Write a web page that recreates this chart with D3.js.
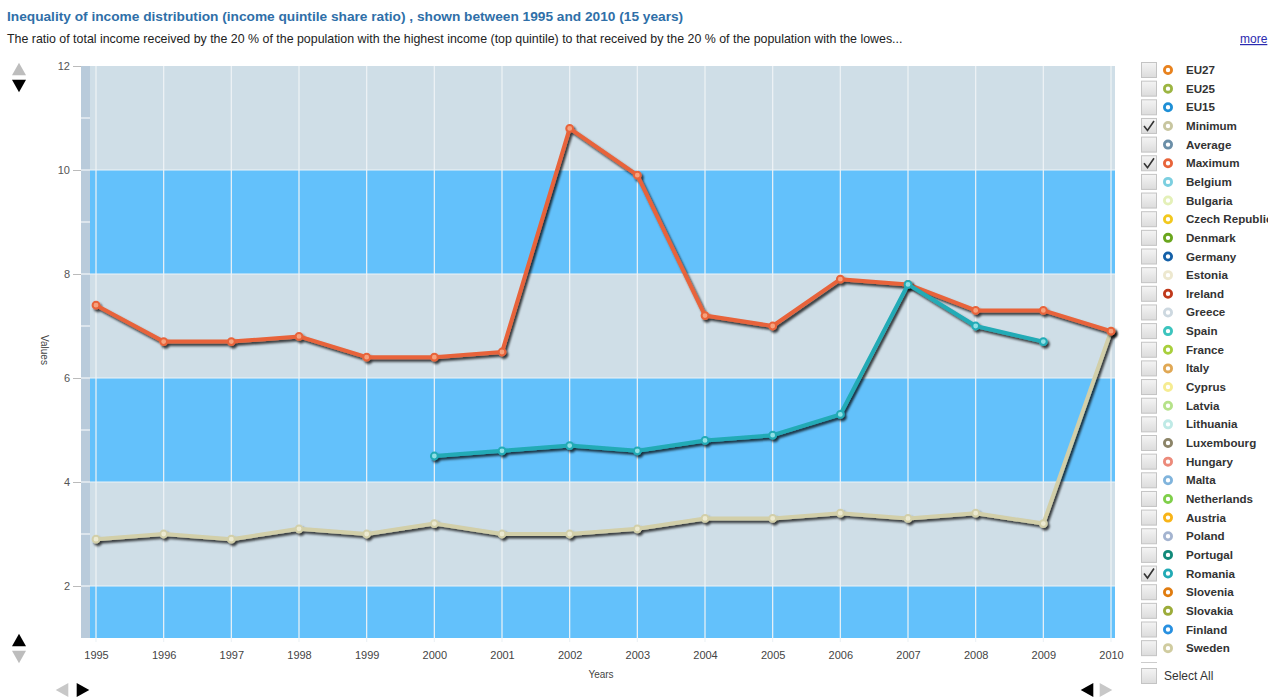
<!DOCTYPE html>
<html><head><meta charset="utf-8">
<script src="https://cdn.jsdelivr.net/npm/d3@7"></script>
<style>
body{margin:0;background:#fff;font-family:Arial,"Liberation Sans",sans-serif;}
</style></head>
<body><svg id="c" width="1268" height="700"></svg>
<script>
const years = [1995,1996,1997,1998,1999,2000,2001,2002,2003,2004,2005,2006,2007,2008,2009,2010];
const minimumVals = [2.9,3.0,2.9,3.1,3.0,3.2,3.0,3.0,3.1,3.3,3.3,3.4,3.3,3.4,3.2,6.9];
const maximumVals = [7.4,6.7,6.7,6.8,6.4,6.4,6.5,10.8,9.9,7.2,7.0,7.9,7.8,7.3,7.3,6.9];
const romaniaVals = [null,null,null,null,null,4.5,4.6,4.7,4.6,4.8,4.9,5.3,7.8,7.0,6.7,null];
const yTicks = [2,4,6,8,10,12];
const legendNames = ["EU27","EU25","EU15","Minimum","Average","Maximum","Belgium","Bulgaria","Czech Republic","Denmark","Germany","Estonia","Ireland","Greece","Spain","France","Italy","Cyprus","Latvia","Lithuania","Luxembourg","Hungary","Malta","Netherlands","Austria","Poland","Portugal","Romania","Slovenia","Slovakia","Finland","Sweden"];
const legendColors = ["#e8821e","#9cb542","#1e8fd6","#c8c6a0","#6b8fa8","#e8643a","#7ccfe0","#e4f0b8","#f2c81e","#6aa61e","#1460a8","#ede8cf","#c0391b","#cdd8e0","#3cc4be","#a8cf3c","#e0a855","#f6ec92","#b6e28a","#bfeae6","#8c8468","#ec8a7a","#80b4dc","#7fcf4a","#f8b418","#a4b4d0","#128a7a","#22aab5","#e07c10","#9cac3a","#2890e0","#d0cca0"];
const checked = ["Minimum","Maximum","Romania"];

(function(){
const svg = d3.select("#c");
const defs = svg.append("defs");
const f = defs.append("filter").attr("id","sh").attr("x","-10%").attr("y","-10%").attr("width","130%").attr("height","130%");
f.append("feDropShadow").attr("dx",2).attr("dy",2.5).attr("stdDeviation",1.3).attr("flood-color","#000").attr("flood-opacity",0.75);
const g1 = defs.append("linearGradient").attr("id","cb").attr("x1",0).attr("y1",0).attr("x2",0).attr("y2",1);
g1.append("stop").attr("offset","0").attr("stop-color","#f4f4f4");
g1.append("stop").attr("offset","1").attr("stop-color","#dcdcdc");

// Title
svg.append("text").attr("x",7).attr("y",21).attr("fill","#2f6fa8").attr("font-weight","bold").attr("font-size","13.7px")
  .text("Inequality of income distribution (income quintile share ratio) , shown between 1995 and 2010 (15 years)");
svg.append("text").attr("x",7).attr("y",43).attr("fill","#222").attr("font-size","12.4px")
  .text("The ratio of total income received by the 20 % of the population with the highest income (top quintile) to that received by the 20 % of the population with the lowes...");
svg.append("text").attr("x",1240).attr("y",43).attr("fill","#2a2ab0").attr("font-size","12px").attr("text-decoration","underline").text("more");

const pL = 90, pR = 1115, pT = 66, pB = 638;
const x = d3.scaleLinear().domain([1995,2010]).range([96,1111]);
const y = d3.scaleLinear().domain([1,12]).range([pB, pT]);

// side strip
svg.append("rect").attr("x",81).attr("y",pT).attr("width",pL-81).attr("height",pB-pT).attr("fill","#b9cbdb");
svg.selectAll(".st").data(d3.range(2,12)).join("line").attr("class","st").attr("x1",81).attr("x2",pL)
  .attr("y1",d=>y(d)).attr("y2",d=>y(d)).attr("stroke","#fff").attr("stroke-width",1);

// bands
const bands = [[10,12,"#cfdee7"],[8,10,"#63c1fb"],[6,8,"#cfdee7"],[4,6,"#63c1fb"],[2,4,"#cfdee7"],[1,2,"#63c1fb"]];
svg.selectAll(".band").data(bands).join("rect").attr("class","band").attr("x",pL).attr("width",pR-pL)
  .attr("y",d=>y(d[1])).attr("height",d=>y(d[0])-y(d[1])).attr("fill",d=>d[2]);
svg.selectAll(".hg").data([2,4,6,8,10]).join("line").attr("class","hg").attr("x1",pL).attr("x2",pR)
  .attr("y1",d=>y(d)).attr("y2",d=>y(d)).attr("stroke","#eef4f8").attr("stroke-width",1.2);
svg.selectAll(".vg").data(years).join("line").attr("class","vg").attr("x1",d=>x(d)).attr("x2",d=>x(d))
  .attr("y1",pT).attr("y2",pB+4).attr("stroke","#eef3f6").attr("stroke-width",1.2);

// y axis
const ya = svg.append("g").attr("transform",`translate(81,0)`).call(d3.axisLeft(y).tickValues(yTicks).tickSize(8).tickPadding(3));
ya.select(".domain").remove();
ya.selectAll("line").attr("stroke","#bbb");
ya.selectAll("text").attr("fill","#555").attr("font-size","11px").attr("font-family","Arial, sans-serif");
// x axis
const xa = svg.append("g").attr("transform",`translate(0,${pB})`).call(d3.axisBottom(x).tickValues(years).tickFormat(d3.format("d")).tickSize(0).tickPadding(13));
xa.select(".domain").remove();
xa.selectAll("text").attr("fill","#444").attr("font-size","11px").attr("font-family","Arial, sans-serif");

svg.append("text").attr("x",601).attr("y",678).attr("text-anchor","middle").attr("fill","#444").attr("font-size","10px").text("Years");
svg.append("text").attr("transform","translate(41,350) rotate(90)").attr("text-anchor","middle").attr("fill","#444").attr("font-size","10px").text("Values");

// series
const series = [
  {name:"Minimum", vals:minimumVals, color:"#d2cfa9", light:"#ecead2"},
  {name:"Maximum", vals:maximumVals, color:"#e8643a", light:"#f6a27e"},
  {name:"Romania", vals:romaniaVals, color:"#22abb6", light:"#8fe0e6"}
];
const line = d3.line().defined(d=>d.v!=null).x(d=>x(d.yr)).y(d=>y(d.v));
series.forEach(s=>{
  const data = years.map((yr,i)=>({yr, v:s.vals[i]}));
  const g = svg.append("g").attr("filter","url(#sh)");
  g.append("path").datum(data).attr("d",line).attr("fill","none").attr("stroke",s.color).attr("stroke-width",4).attr("stroke-linejoin","round");
  g.selectAll("circle").data(data.filter(d=>d.v!=null)).join("circle").attr("cx",d=>x(d.yr)).attr("cy",d=>y(d.v))
    .attr("r",3.4).attr("fill",s.light).attr("stroke",s.color).attr("stroke-width",2);
});

// arrows
function tri(cx,cy,dir,col){
  const s=7;
  let p;
  if(dir==="up") p=[[cx-s,cy+s*0.9],[cx+s,cy+s*0.9],[cx,cy-s*0.9]];
  else if(dir==="down") p=[[cx-s,cy-s*0.9],[cx+s,cy-s*0.9],[cx,cy+s*0.9]];
  else if(dir==="left") p=[[cx+s*0.9,cy-s],[cx+s*0.9,cy+s],[cx-s*0.9,cy]];
  else p=[[cx-s*0.9,cy-s],[cx-s*0.9,cy+s],[cx+s*0.9,cy]];
  svg.append("path").attr("d","M"+p.map(q=>q.join(",")).join("L")+"Z").attr("fill",col);
}
tri(19,69,"up","#bdbdbd"); tri(19,86,"down","#000");
tri(19,640,"up","#000"); tri(19,657,"down","#bdbdbd");
tri(62,690,"left","#c8c8c8"); tri(83,690,"right","#000");
tri(1087,690,"left","#000"); tri(1106,690,"right","#c8c8c8");

// legend
const lg = svg.append("g");
const rowY = i => 70 + i*18.65;
const rows = lg.selectAll("g.r").data(legendNames).join("g").attr("class","r").attr("transform",(d,i)=>`translate(0,${rowY(i)})`);
rows.append("rect").attr("x",1141.5).attr("y",-7.5).attr("width",15).attr("height",15).attr("fill","url(#cb)").attr("stroke","#c4c4c4");
rows.filter(d=>checked.includes(d)).append("path").attr("d","M1144,0 L1147.5,4.5 L1154,-5").attr("fill","none").attr("stroke","#333").attr("stroke-width",1.6);
rows.append("circle").attr("cx",1168).attr("cy",0).attr("r",3.6).attr("fill","#fff").attr("stroke",(d,i)=>legendColors[i]).attr("stroke-width",2.8);
rows.append("text").attr("x",1186).attr("y",4).attr("font-size","11.6px").attr("font-weight","bold").attr("fill","#333").text(d=>d);
lg.append("line").attr("x1",1141).attr("x2",1157).attr("y1",662.5).attr("y2",662.5).attr("stroke","#ccc");
lg.append("rect").attr("x",1141.5).attr("y",668.5).attr("width",15).attr("height",15).attr("fill","url(#cb)").attr("stroke","#c4c4c4");
lg.append("text").attr("x",1164).attr("y",680).attr("font-size","12px").attr("fill","#333").text("Select All");
})();
</script></body></html>
